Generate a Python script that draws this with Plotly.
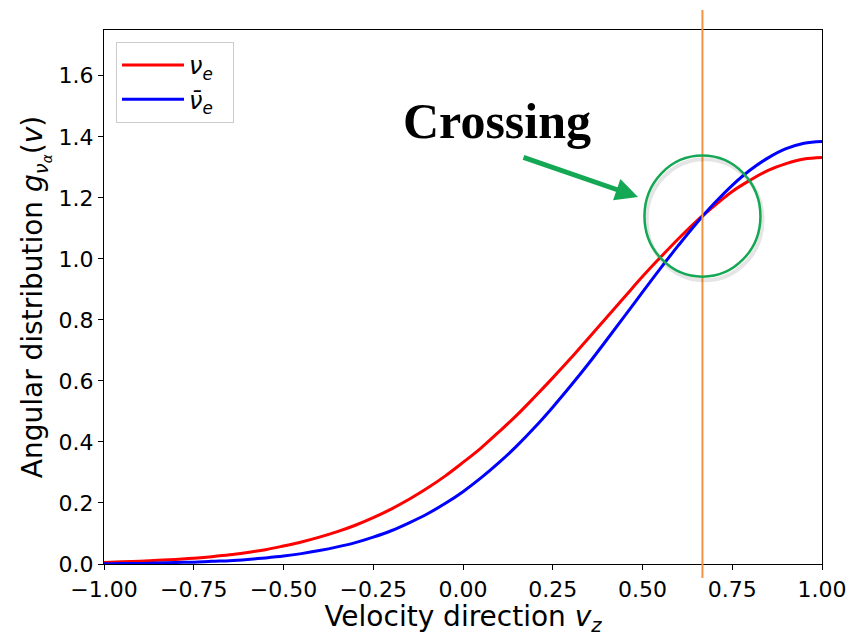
import plotly.graph_objects as go

# Velocity direction samples (step 0.05)
vz = [-1.00, -0.95, -0.90, -0.85, -0.80, -0.75, -0.70, -0.65, -0.60, -0.55,
      -0.50, -0.45, -0.40, -0.35, -0.30, -0.25, -0.20, -0.15, -0.10, -0.05,
      0.00, 0.05, 0.10, 0.15, 0.20, 0.25, 0.30, 0.35, 0.40, 0.45,
      0.50, 0.55, 0.60, 0.65, 0.70, 0.75, 0.80, 0.85, 0.90, 0.95, 1.00]
# nu_e angular distribution (red)
g_nue = [0.005, 0.007, 0.009, 0.012, 0.015, 0.019, 0.024, 0.030, 0.038, 0.047,
         0.059, 0.072, 0.088, 0.106, 0.127, 0.152, 0.180, 0.212, 0.248, 0.288,
         0.333, 0.380, 0.433, 0.488, 0.548, 0.610, 0.674, 0.741, 0.808, 0.875,
         0.942, 1.005, 1.066, 1.123, 1.174, 1.221, 1.258, 1.290, 1.312, 1.327, 1.332]
# anti nu_e angular distribution (blue)
g_nuebar = [0.001, 0.002, 0.002, 0.003, 0.005, 0.006, 0.009, 0.011, 0.015, 0.020,
            0.026, 0.034, 0.044, 0.056, 0.070, 0.088, 0.109, 0.135, 0.164, 0.198,
            0.237, 0.282, 0.332, 0.387, 0.448, 0.514, 0.584, 0.657, 0.734, 0.812,
            0.891, 0.969, 1.044, 1.116, 1.182, 1.241, 1.291, 1.331, 1.361, 1.379, 1.385]

crossing_v = 0.667
crossing_g = 1.14

x_ticks = [-1.0, -0.75, -0.5, -0.25, 0.0, 0.25, 0.5, 0.75, 1.0]
y_ticks = [0.0, 0.2, 0.4, 0.6, 0.8, 1.0, 1.2, 1.4, 1.6]

FONT = "DejaVu Sans"
fig = go.Figure()
fig.add_trace(go.Scatter(x=vz, y=g_nue, mode="lines", line=dict(color="#ff0000", width=3, shape="spline"),
                         name="<i>ν</i><sub><i>e</i></sub>&nbsp;&nbsp;"))
fig.add_trace(go.Scatter(x=vz, y=g_nuebar, mode="lines", line=dict(color="#0000ff", width=3, shape="spline"),
                         name="<i>ν̄</i><sub><i>e</i></sub>&nbsp;&nbsp;"))

# vertical orange line at the crossing
fig.add_shape(type="line", xref="x", yref="paper", x0=crossing_v, x1=crossing_v,
              y0=-0.026, y1=1.0375, line=dict(color="#f29440", width=2), layer="above")

# circle shadow + circle
rx, ry = 0.1615, 0.1985
fig.add_shape(type="circle", xref="x", yref="y",
              x0=crossing_v - rx + 0.006, x1=crossing_v + rx + 0.006,
              y0=crossing_g - ry - 0.012, y1=crossing_g + ry - 0.012,
              line=dict(color="rgba(0,0,0,0.10)", width=4))
fig.add_shape(type="circle", xref="x", yref="y",
              x0=crossing_v - rx, x1=crossing_v + rx,
              y0=crossing_g - ry, y1=crossing_g + ry,
              line=dict(color="#15a854", width=2.5))

# arrow
fig.add_annotation(x=0.4875, y=1.203, xref="x", yref="y", ax=-116, ay=-40,
                   showarrow=True, arrowhead=2, arrowsize=0.9, arrowwidth=5,
                   arrowcolor="#15a854", text="")
# text
fig.add_annotation(x=(497 - 104) / 718, y=(564 - 121) / 534, xref="paper", yref="paper",
                   text="<b>Crossing</b>", showarrow=False,
                   font=dict(family="Liberation Serif", size=50, color="black"),
                   xanchor="center", yanchor="middle")

axis_common = dict(showline=True, linecolor="black", linewidth=1.3, mirror=True,
                   ticks="outside", ticklen=5, tickwidth=1.3, tickcolor="black",
                   showgrid=False, zeroline=False, automargin=False,
                   tickfont=dict(family=FONT, size=22, color="black"))

fig.update_layout(
    width=852, height=637,
    margin=dict(l=104, r=30, t=30, b=73),
    paper_bgcolor="white", plot_bgcolor="white",
    font=dict(family=FONT, color="black"),
    xaxis=dict(range=[-1, 1], tickvals=x_ticks, tickformat=".2f",
               title=dict(text="Velocity direction <i>v</i><sub><i>z</i></sub>",
                          font=dict(family=FONT, size=28), standoff=3),
               **axis_common),
    yaxis=dict(range=[0, 1.75], tickvals=y_ticks, tickformat=".1f",
               title=dict(text="Angular distribution <i>g</i><sub><i>ν</i><sub><i>α</i></sub></sub>(<i>v</i>)",
                          font=dict(family=FONT, size=28), standoff=7),
               **axis_common),
    legend=dict(x=0.0167, y=0.9775, xanchor="left", yanchor="top",
                bgcolor="white", bordercolor="#cccccc", borderwidth=1,
                font=dict(family=FONT, size=24), itemwidth=62),
    showlegend=True,
)

fig.write_html("out.html")
